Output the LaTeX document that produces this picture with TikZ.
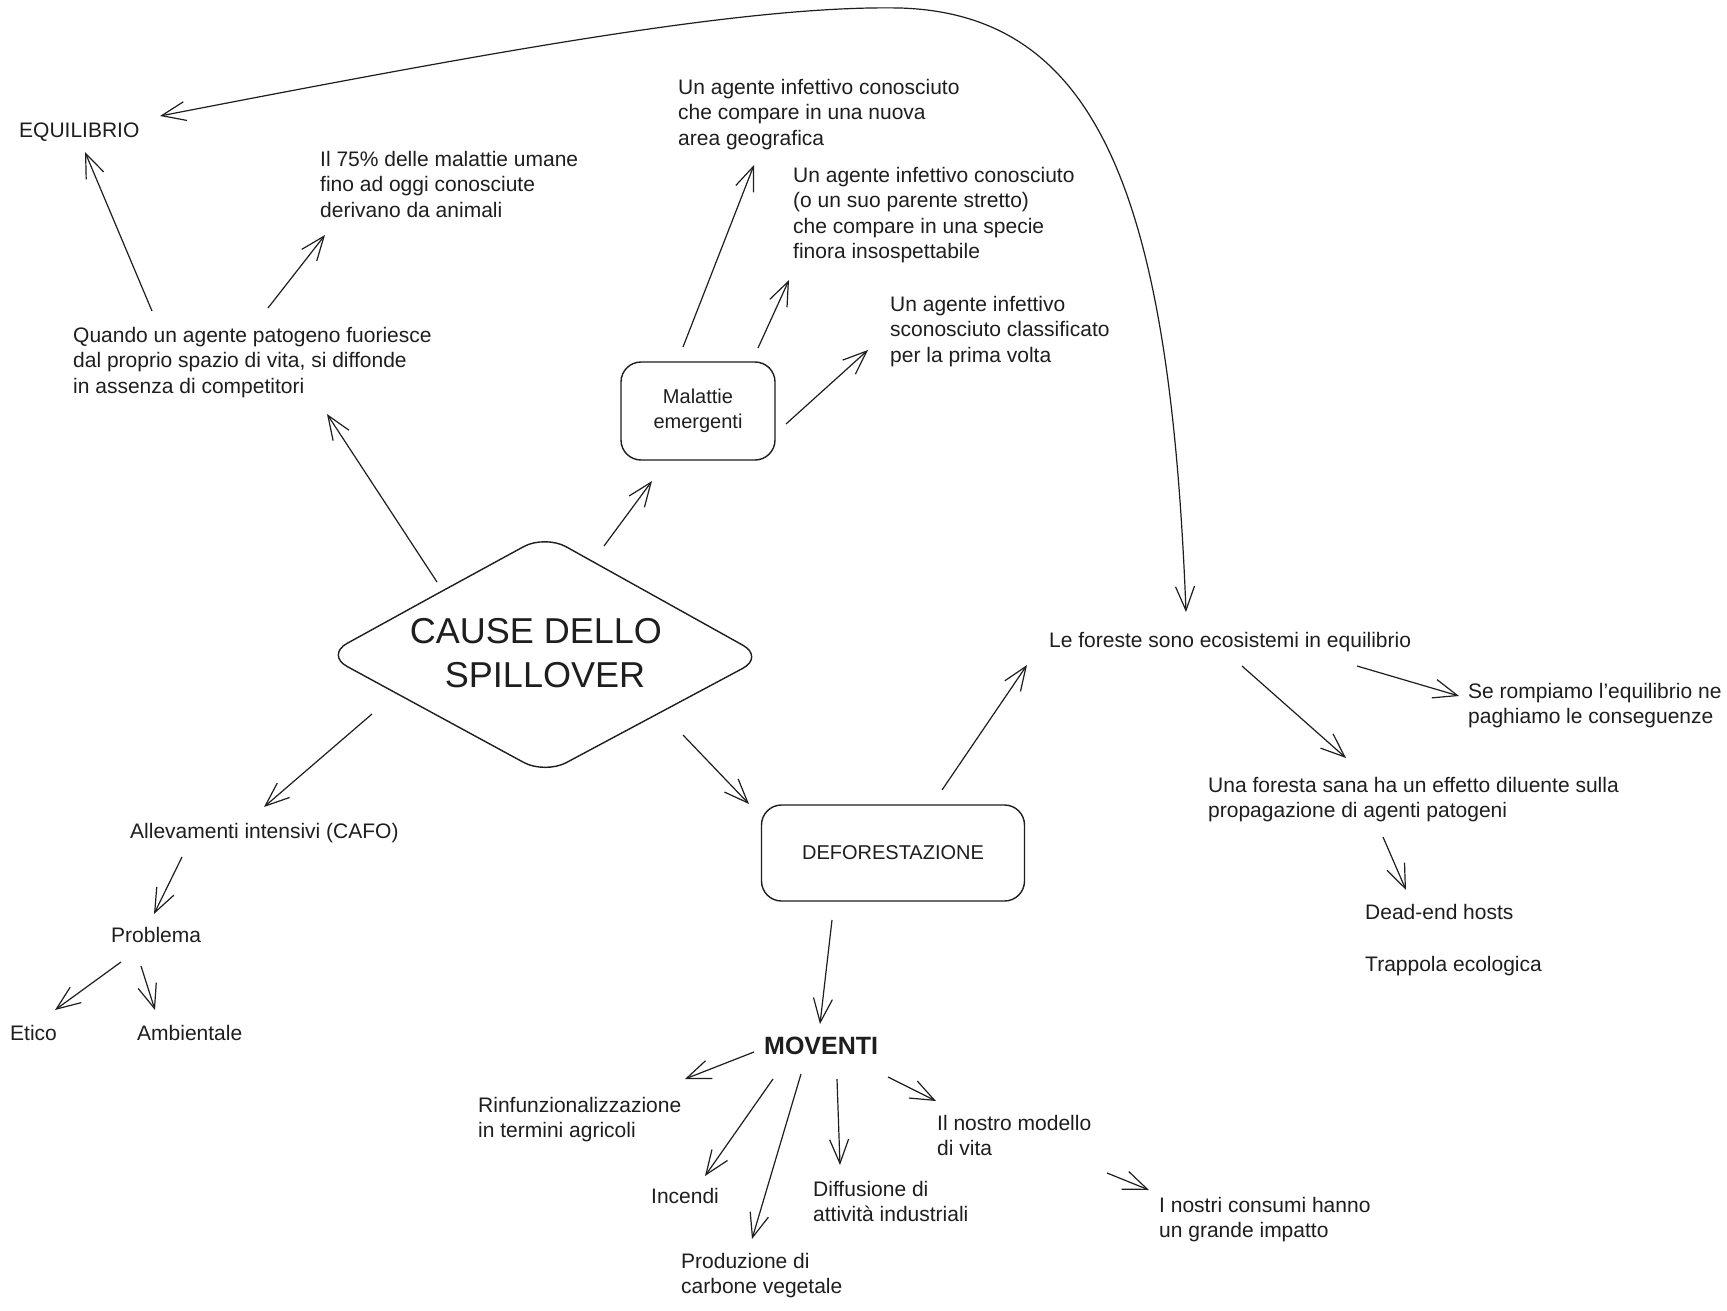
\documentclass[tikz,border=0pt]{standalone}
\usepackage{fontspec}
\setmainfont{Liberation Sans}
\usetikzlibrary{arrows.meta,calc}
\definecolor{ink}{HTML}{1E1E1E}
\tikzset{
  txt/.style={anchor=north west, inner sep=0pt, align=left, text=ink, font=\fontsize{21}{25.5}\selectfont},
  tip/.tip={Straight Barb[length=24pt,width=19pt]},
  arr/.style={draw=ink, line width=1.2pt, -tip},
  dblarr/.style={draw=ink, line width=1.2pt, tip-tip},
  box/.style={draw=ink, line width=1.4pt, rounded corners=20pt, align=center, text=ink, font=\fontsize{20}{25.5}\selectfont},
  outline/.style={draw=ink, line width=1.4pt, rounded corners=24pt}
}
\begin{document}
\begin{tikzpicture}[x=1pt,y=-1pt]
\useasboundingbox[fill=white] (0,0) rectangle (1727,1311);

% central diamond
\node[inner sep=0pt, align=center, text=ink, font=\fontsize{36}{44}\selectfont] (cause) at (536,653) {CAUSE DELLO\\\hspace*{18pt}SPILLOVER};
\draw[outline] (435,595) -- (545,535) -- (764,657) -- (545,774) -- (326,655) -- cycle;

% nodes
\node[txt] (equi) at (19,123) {EQUILIBRIO};
\node[txt] (pct) at (320,151) {Il 75\% delle malattie umane\\fino ad oggi conosciute\\derivano da animali};
\node[txt] (quando) at (73,327) {Quando un agente patogeno fuoriesce\\dal proprio spazio di vita, si diffonde\\in assenza di competitori};
\node[txt] (nuova) at (678,79) {Un agente infettivo conosciuto\\che compare in una nuova\\area geografica};
\node[txt] (parente) at (793,167) {Un agente infettivo conosciuto\\(o un suo parente stretto)\\che compare in una specie\\finora insospettabile};
\node[txt] (scon) at (890,296) {Un agente infettivo\\sconosciuto classificato\\per la prima volta};
\node[box, minimum width=154pt, minimum height=98pt] (malat) at (698,411) {Malattie\\emergenti};
\node[box, minimum width=263pt, minimum height=96pt] (defor) at (893,853) {DEFORESTAZIONE};
\node[txt] (foreste) at (1049,632) {Le foreste sono ecosistemi in equilibrio};
\node[txt] (serom) at (1468,683) {Se rompiamo l'equilibrio ne\\paghiamo le conseguenze};
\node[txt] (sana) at (1208,777) {Una foresta sana ha un effetto diluente sulla\\propagazione di agenti patogeni};
\node[txt] (dead) at (1365,904) {Dead-end hosts};
\node[txt] (trap) at (1365,956) {Trappola ecologica};
\node[txt] (alleva) at (130,823) {Allevamenti intensivi (CAFO)};
\node[txt] (probl) at (111,927) {Problema};
\node[txt] (etico) at (10,1025) {Etico};
\node[txt] (amb) at (137,1025) {Ambientale};
\node[txt, font=\fontsize{25}{30}\selectfont\bfseries] (mov) at (764,1037) {MOVENTI};
\node[txt] (rinf) at (478,1097) {Rinfunzionalizzazione\\in termini agricoli};
\node[txt] (inc) at (651,1188) {Incendi};
\node[txt] (prod) at (681,1253) {Produzione di\\carbone vegetale};
\node[txt] (diff) at (813,1181) {Diffusione di\\attività industriali};
\node[txt] (mod) at (937,1115) {Il nostro modello\\di vita};
\node[txt] (cons) at (1159,1197) {I nostri consumi hanno\\un grande impatto};

% connectors
\draw[arr] ($(quando.north west)+(79,-16)$) -- ($(equi.north west)+(66,29)$);
\draw[arr] ($(quando.north west)+(195,-19)$) -- ($(pct.north west)+(5,84)$);
\draw[arr] ($(cause.center)+(-99,-71)$) -- ($(quando.north west)+(254,87)$);
\draw[arr] ($(cause.center)+(68,-107)$) -- ($(malat.center)+(-46,70)$);
\draw[arr] ($(malat.center)+(-15,-64)$) -- ($(nuova.north west)+(76,86)$);
\draw[arr] ($(malat.center)+(60,-63)$) -- ($(parente.north west)+(-4,113)$);
\draw[arr] ($(malat.center)+(88,13)$) -- ($(scon.north west)+(-22,54)$);
\draw[arr] ($(cause.center)+(147,82)$) -- ($(defor.center)+(-144,-49)$);
\draw[arr] ($(cause.center)+(-164,61)$) -- ($(alleva.north west)+(134,-16)$);
\draw[arr] ($(alleva.north west)+(52,34)$) -- ($(probl.north west)+(43,-13)$);
\draw[arr] ($(probl.north west)+(10,35)$) -- ($(etico.north west)+(45,-15)$);
\draw[arr] ($(probl.north west)+(30,39)$) -- ($(amb.north west)+(18,-15)$);
\draw[arr] ($(defor.center)+(-61,67)$) -- ($(mov.north west)+(56,-13)$);
\draw[arr] ($(defor.center)+(49,-63)$) -- ($(foreste.north west)+(-22,33)$);
\draw[arr] ($(foreste.north west)+(193,34)$) -- ($(sana.north west)+(138,-19)$);
\draw[arr] ($(foreste.north west)+(308,34)$) -- ($(serom.north west)+(-9,13)$);
\draw[arr] ($(sana.north west)+(175,60)$) -- ($(dead.north west)+(41,-14)$);
\draw[arr] ($(mov.north west)+(-10,15)$) -- ($(rinf.north west)+(207,-18)$);
\draw[arr] ($(mov.north west)+(9,42)$) -- ($(inc.north west)+(54,-12)$);
\draw[arr] ($(mov.north west)+(37,37)$) -- ($(prod.north west)+(71,-14)$);
\draw[arr] ($(mov.north west)+(73,42)$) -- ($(diff.north west)+(27,-16)$);
\draw[arr] ($(mov.north west)+(124,40)$) -- ($(mod.north west)+(-1,-14)$);
\draw[arr] ($(mod.north west)+(170,58)$) -- ($(cons.north west)+(-10,-7)$);
\draw[dblarr] ($(equi.north west)+(141,-7)$) .. controls (500,50) and (750,5) .. (900,8)
  .. controls (1100,14) and (1170,200) .. ($(foreste.north west)+(137,-20)$);
\end{tikzpicture}
\end{document}
